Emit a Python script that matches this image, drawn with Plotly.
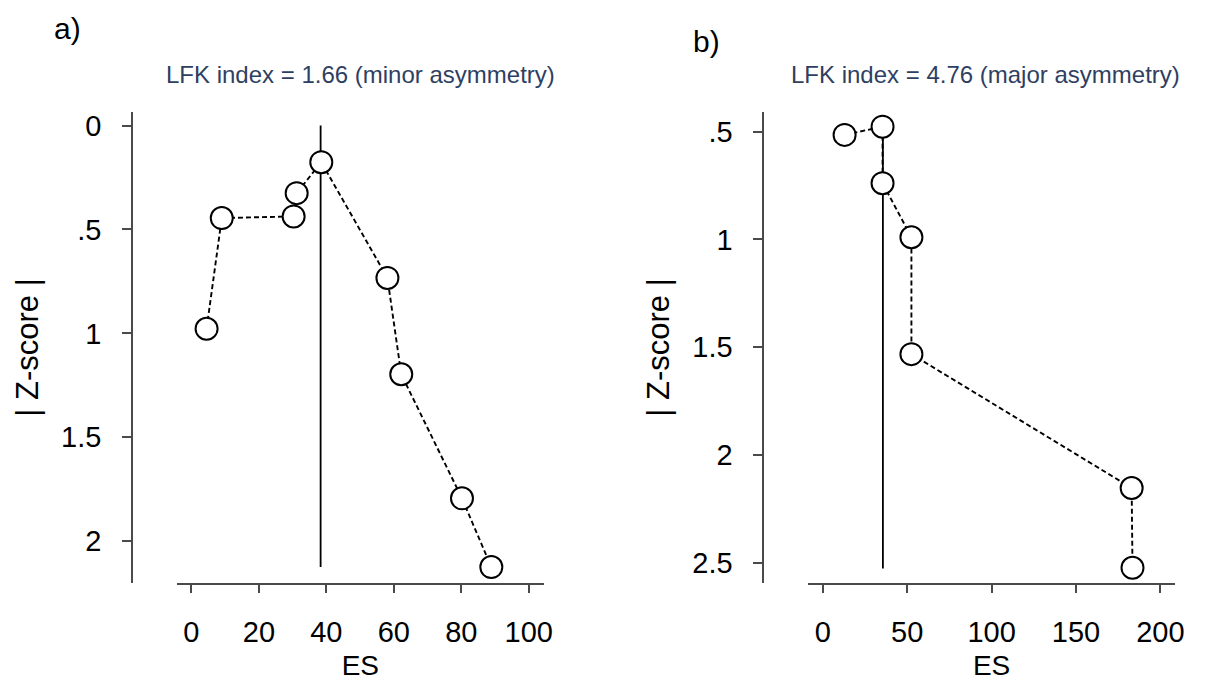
import plotly.graph_objects as go

# ---- data ----
es_a = [4.5, 9.0, 30.3, 31.2, 38.5, 58.1, 62.2, 80.2, 88.9]
z_a = [0.978, 0.445, 0.437, 0.325, 0.176, 0.733, 1.197, 1.794, 2.125]
ref_es_a = [38.3, 38.3]
ref_z_a = [0.0, 2.125]

es_b = [12.9, 35.4, 35.4, 52.5, 52.5, 183.0, 183.5]
z_b = [0.515, 0.477, 0.739, 0.99, 1.532, 2.153, 2.523]
ref_es_b = [35.6, 35.6]
ref_z_b = [0.477, 2.526]

title_a = "LFK index = 1.66 (minor asymmetry)"
title_b = "LFK index = 4.76 (major asymmetry)"

xticks_a = [0, 20, 40, 60, 80, 100]
yticks_a = [0, 0.5, 1, 1.5, 2]
yticktext_a = ["0", ".5", "1", "1.5", "2"]
xticks_b = [0, 50, 100, 150, 200]
yticks_b = [0.5, 1, 1.5, 2, 2.5]
yticktext_b = [".5", "1", "1.5", "2", "2.5"]

OFF = 8  # page body margin
W, H = 1211 - OFF, 686 - OFF
FONT = "Arial, Liberation Sans, sans-serif"
AX = "#4a4a4a"

fig = go.Figure()

marker = dict(size=22, color="white", line=dict(color="black", width=2))
dashed = dict(color="black", width=1.9, dash="5px,3px")

# reference (vertical) lines under the markers
fig.add_trace(go.Scatter(x=ref_es_a, y=ref_z_a, mode="lines",
                         line=dict(color="black", width=1.8),
                         xaxis="x", yaxis="y", showlegend=False, hoverinfo="skip"))
fig.add_trace(go.Scatter(x=es_a, y=z_a, mode="lines+markers", line=dashed, marker=marker,
                         xaxis="x", yaxis="y", showlegend=False))
fig.add_trace(go.Scatter(x=ref_es_b, y=ref_z_b, mode="lines",
                         line=dict(color="black", width=1.8),
                         xaxis="x2", yaxis="y2", showlegend=False, hoverinfo="skip"))
fig.add_trace(go.Scatter(x=es_b, y=z_b, mode="lines+markers", line=dashed, marker=marker,
                         xaxis="x2", yaxis="y2", showlegend=False))


def px_x(p):
    return (p - OFF) / W


def px_y(p):
    return 1 - (p - OFF) / H


ydom = [px_y(583), px_y(110)]
tickfont = dict(family=FONT, size=29, color="black")
xtitlefont = dict(family=FONT, size=28, color="black")
ytitlefont = dict(family=FONT, size=31, color="black")

common_x = dict(showline=True, linecolor=AX, linewidth=1.7, ticks="outside",
                ticklen=8, tickwidth=1.6, tickcolor=AX, showgrid=False, zeroline=False,
                tickfont=tickfont, ticklabelstandoff=14)
common_y = dict(showline=True, linecolor=AX, linewidth=1.7, ticks="outside",
                ticklen=9, tickwidth=1.6, tickcolor=AX, showgrid=False, zeroline=False,
                tickfont=tickfont, ticklabelstandoff=15)

fig.update_layout(
    width=W, height=H,
    margin=dict(l=0, r=0, t=0, b=0),
    paper_bgcolor="white", plot_bgcolor="white",
    font=dict(family=FONT),
    xaxis=dict(domain=[px_x(178), px_x(548)], range=[-4.35, 104.5], anchor="y",
               tickvals=xticks_a, title=dict(text="ES", font=xtitlefont, standoff=8),
               **common_x),
    yaxis=dict(domain=ydom, range=[2.203, -0.067], anchor="free", position=px_x(133),
               tickvals=yticks_a, ticktext=yticktext_a,
               title=dict(text="| Z-score |", font=ytitlefont, standoff=12),
               **common_y),
    xaxis2=dict(domain=[px_x(814), px_x(1184)], range=[-8.8, 208.8], anchor="y2",
                tickvals=xticks_b, title=dict(text="ES", font=xtitlefont, standoff=8),
                **common_x),
    yaxis2=dict(domain=ydom, range=[2.595, 0.4075], anchor="free", position=px_x(769),
                tickvals=yticks_b, ticktext=yticktext_b,
                title=dict(text="| Z-score |", font=ytitlefont, standoff=12),
                **common_y),
    annotations=[
        dict(text="a)", x=px_x(68), y=px_y(27), xref="paper", yref="paper",
             xanchor="center", yanchor="middle",
             showarrow=False, font=dict(family=FONT, size=30, color="black")),
        dict(text="b)", x=px_x(712), y=px_y(40), xref="paper", yref="paper",
             xanchor="center", yanchor="middle",
             showarrow=False, font=dict(family=FONT, size=30, color="black")),
        dict(text=title_a, x=px_x(363), y=px_y(73), xref="paper", yref="paper",
             xanchor="center", yanchor="middle",
             showarrow=False, font=dict(family=FONT, size=24, color="#2f3f62")),
        dict(text=title_b, x=px_x(993), y=px_y(73), xref="paper", yref="paper",
             xanchor="center", yanchor="middle",
             showarrow=False, font=dict(family=FONT, size=24, color="#2f3f62")),
    ],
)

fig.write_html("out.html")
